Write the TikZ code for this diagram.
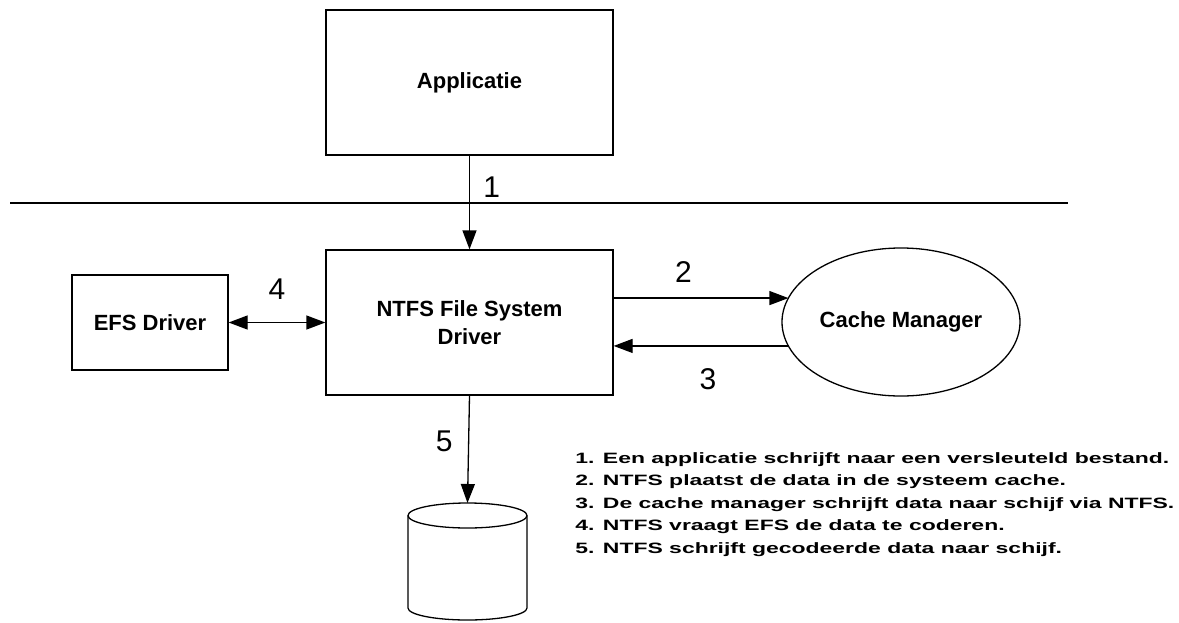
\documentclass[tikz,border=0pt]{standalone}
\usepackage{fontspec}
\setmainfont{Liberation Sans}
\usetikzlibrary{arrows.meta,shapes.geometric}
\begin{document}
\begin{tikzpicture}[x=1pt, y=-1pt,
  box/.style={draw, line width=1.3pt, align=center, font=\fontsize{22}{28}\selectfont\bfseries},
  pijl/.style={line width=1.3pt, -{Triangle[length=19pt,width=14pt]}},
  nummer/.style={font=\fontsize{30}{30}\selectfont}]

\useasboundingbox (0,0) rectangle (1179,622);

\node[box, minimum width=287pt, minimum height=145pt] (app) at (469.5,82.5) {Applicatie};
\node[box, minimum width=287pt, minimum height=145pt] (ntfs) at (469.5,322.5) {NTFS File System\\Driver};
\node[box, minimum width=156pt, minimum height=95pt] (efs) at (150,322.5) {EFS Driver};
\node[box, ellipse, inner xsep=-3pt, inner ysep=0pt, outer sep=0pt, minimum width=238pt, minimum height=148pt] (cm) at (901,322) {Cache Manager};

\coordinate (lijnlinks) at (10,203);
\coordinate (lijnrechts) at (1068,203);
\draw[line width=1.3pt] (lijnlinks) -- (lijnrechts);

% schijf
\coordinate (disk) at (467.5,503);
\draw[line width=1.3pt] (408,515.5) -- (408,608) arc (180:360:59.5pt and 12pt) -- (527,515.5);
\draw[line width=1.3pt] (467.5,515.5) ellipse [x radius=59.5pt, y radius=12.5pt];

\draw[pijl] (app.south) -- (ntfs.north) node[nummer, pos=0.34, right=10pt]{1};
\draw[line width=1.3pt, {Triangle[length=19pt,width=14pt]}-{Triangle[length=19pt,width=14pt]}] (efs.east) -- (ntfs.west) node[nummer, midway, above=19pt]{4};
\draw[pijl] (ntfs.east |- cm.168) -- (cm.168) node[nummer, pos=0.4, above=12pt]{2};
\draw[pijl] (cm.192) -- (ntfs.east |- cm.192) node[nummer, pos=0.46, below=19pt]{3};
\draw[pijl] (ntfs.south) -- (disk) node[nummer, pos=0.43, left=12pt]{5};

\node[anchor=north west, align=left, xscale=1.53, transform shape, inner sep=0pt,
  font=\fontsize{15}{22.5}\selectfont\bfseries] (lijst) at (575,452)
  {1. Een applicatie schrijft naar een versleuteld bestand.\\
   2. NTFS plaatst de data in de systeem cache.\\
   3. De cache manager schrijft data naar schijf via NTFS.\\
   4. NTFS vraagt EFS de data te coderen.\\
   5. NTFS schrijft gecodeerde data naar schijf.};

\end{tikzpicture}
\end{document}
